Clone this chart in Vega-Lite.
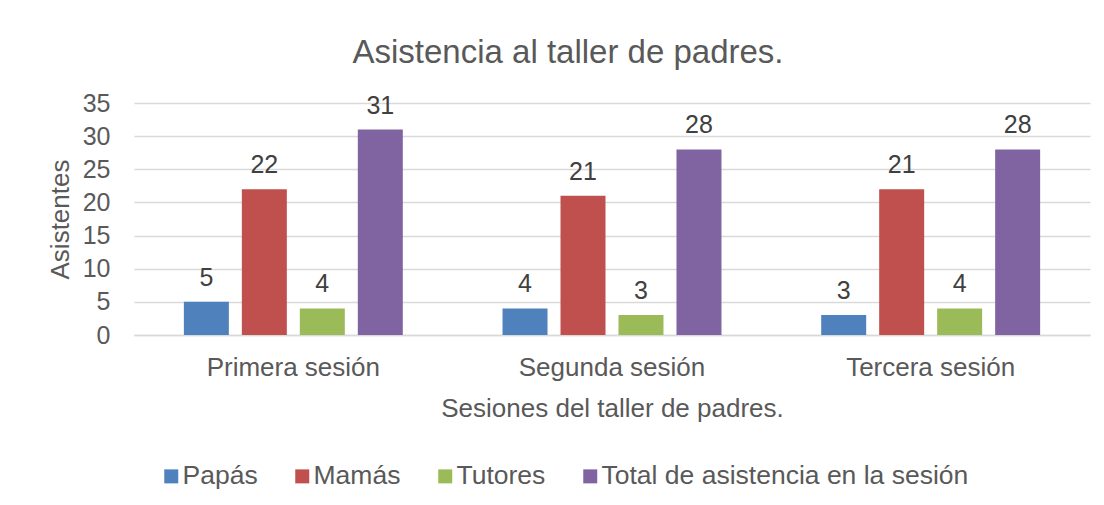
{
  "$schema": "https://vega.github.io/schema/vega-lite/v6.json",
  "width": 956,
  "height": 232,
  "autosize": "none",
  "padding": {"left": 134, "top": 103, "right": 14, "bottom": 170},
  "background": "white",
  "config": {
    "font": "Liberation Sans",
    "view": {"stroke": null}
  },
  "title": {
    "text": "Asistencia al taller de padres.",
    "fontSize": 33,
    "fontWeight": "normal",
    "color": "#595959",
    "anchor": "middle",
    "dx": -44,
    "offset": 21
  },
  "data": {
    "values": [
      {"sesion": "Primera sesión", "grupo": "Papás", "valor": 5, "etiqueta": "5"},
      {"sesion": "Primera sesión", "grupo": "Mamás", "valor": 22, "etiqueta": "22"},
      {"sesion": "Primera sesión", "grupo": "Tutores", "valor": 4, "etiqueta": "4"},
      {"sesion": "Primera sesión", "grupo": "Total de asistencia en la sesión", "valor": 31, "etiqueta": "31"},
      {"sesion": "Segunda sesión", "grupo": "Papás", "valor": 4, "etiqueta": "4"},
      {"sesion": "Segunda sesión", "grupo": "Mamás", "valor": 21, "etiqueta": "21"},
      {"sesion": "Segunda sesión", "grupo": "Tutores", "valor": 3, "etiqueta": "3"},
      {"sesion": "Segunda sesión", "grupo": "Total de asistencia en la sesión", "valor": 28, "etiqueta": "28"},
      {"sesion": "Tercera sesión", "grupo": "Papás", "valor": 3, "etiqueta": "3"},
      {"sesion": "Tercera sesión", "grupo": "Mamás", "valor": 22, "etiqueta": "21"},
      {"sesion": "Tercera sesión", "grupo": "Tutores", "valor": 4, "etiqueta": "4"},
      {"sesion": "Tercera sesión", "grupo": "Total de asistencia en la sesión", "valor": 28, "etiqueta": "28"}
    ]
  },
  "encoding": {
    "x": {
      "field": "sesion",
      "type": "nominal",
      "sort": ["Primera sesión", "Segunda sesión", "Tercera sesión"],
      "scale": {"paddingInner": 0, "paddingOuter": 0},
      "axis": {
        "title": "Sesiones del taller de padres.",
        "titleFontSize": 26,
        "titleFontWeight": "normal",
        "titleColor": "#595959",
        "titlePadding": 15,
        "labelAngle": 0,
        "labelFontSize": 26,
        "labelColor": "#595959",
        "labelPadding": 19,
        "labelLimit": 400,
        "ticks": false,
        "domainColor": "#d9d9d9",
        "domainWidth": 1.3
      }
    },
    "xOffset": {
      "field": "grupo",
      "type": "nominal",
      "sort": ["Papás", "Mamás", "Tutores", "Total de asistencia en la sesión"],
      "scale": {"paddingInner": 0.224, "paddingOuter": 0.86}
    },
    "y": {
      "field": "valor",
      "type": "quantitative",
      "scale": {"domain": [0, 35]},
      "axis": {
        "title": "Asistentes",
        "titleFontSize": 26,
        "titleFontWeight": "normal",
        "titleColor": "#595959",
        "titlePadding": 9,
        "values": [0, 5, 10, 15, 20, 25, 30, 35],
        "labelFontSize": 25,
        "labelColor": "#595959",
        "labelPadding": 24,
        "ticks": false,
        "domain": false,
        "gridColor": "#d9d9d9",
        "gridWidth": 1.3
      }
    }
  },
  "layer": [
    {
      "mark": {"type": "bar"},
      "encoding": {
        "color": {
          "field": "grupo",
          "type": "nominal",
          "sort": ["Papás", "Mamás", "Tutores", "Total de asistencia en la sesión"],
          "scale": {
            "domain": ["Papás", "Mamás", "Tutores", "Total de asistencia en la sesión"],
            "range": ["#4F81BD", "#C0504D", "#9BBB59", "#8064A2"]
          },
          "legend": {
            "title": null,
            "orient": "none",
            "direction": "horizontal",
            "legendX": 24,
            "legendY": 360,
            "symbolType": "square",
            "symbolSize": 196,
            "symbolStrokeWidth": 0,
            "labelFontSize": 26.5,
            "labelColor": "#595959",
            "labelOffset": -2,
            "columnPadding": 31,
            "labelLimit": 500
          }
        }
      }
    },
    {
      "mark": {"type": "text", "baseline": "alphabetic", "dy": -16, "fontSize": 25, "color": "#404040"},
      "encoding": {
        "text": {"field": "etiqueta", "type": "nominal"}
      }
    }
  ]
}
